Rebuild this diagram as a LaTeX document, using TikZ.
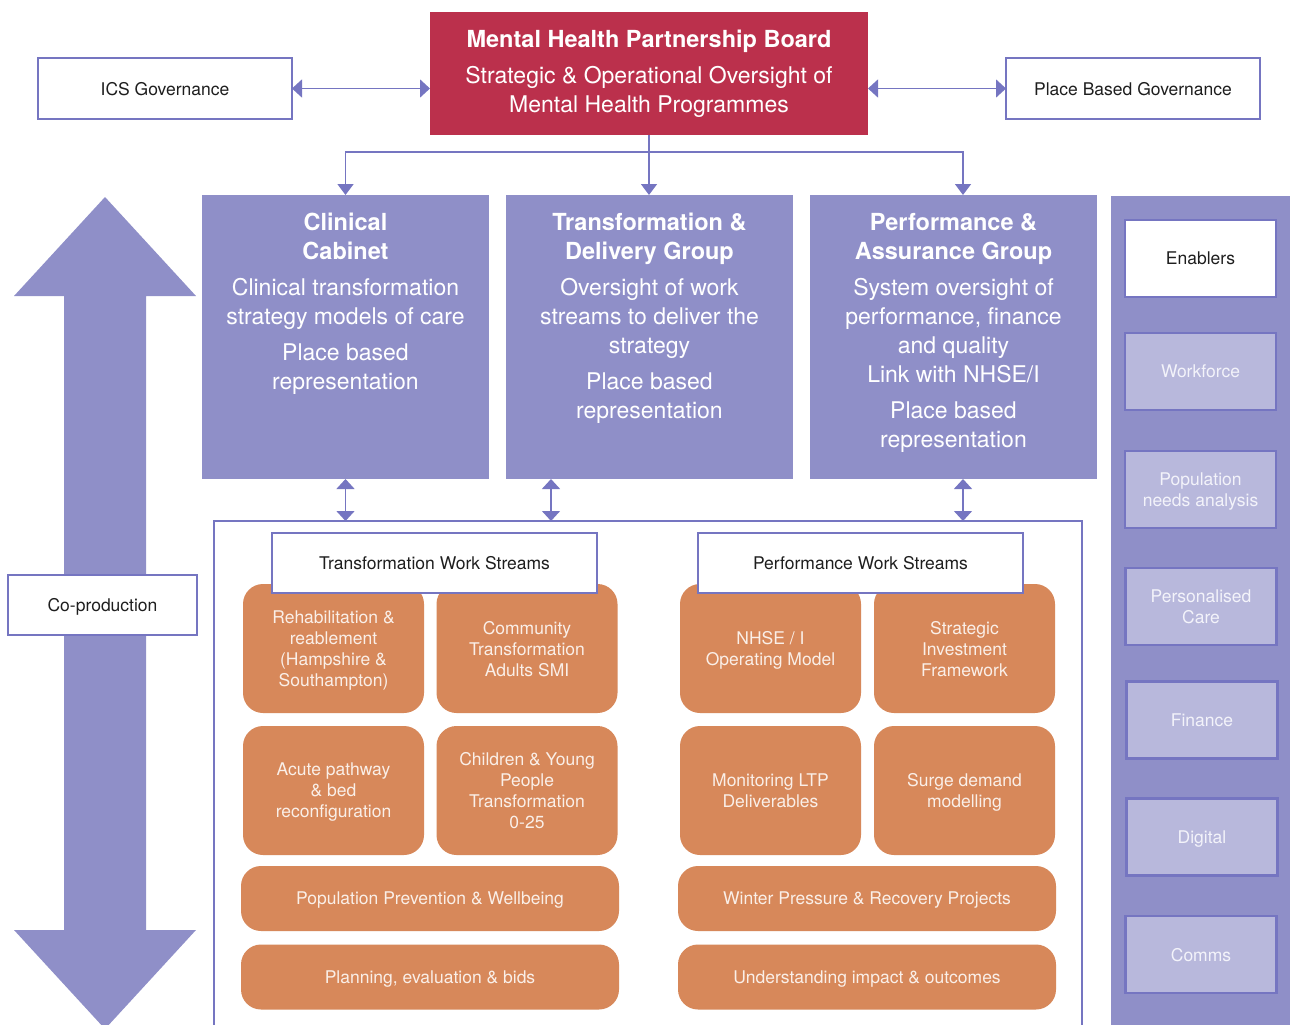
\documentclass[tikz,border=0pt]{standalone}
\usepackage{fontspec}
\setmainfont{TeX Gyre Heros}
\usetikzlibrary{arrows.meta}
\definecolor{crimson}{HTML}{BB304C}
\definecolor{lav}{HTML}{8F8FC8}
\definecolor{bord}{HTML}{7575C1}
\definecolor{lightlav}{HTML}{B8B8DC}
\definecolor{orng}{HTML}{D7885A}
\definecolor{orngtxt}{HTML}{FAEFE8}
\definecolor{entxt}{HTML}{F3F3FA}
\definecolor{dark}{HTML}{1E1E1E}
\begin{document}
\begin{tikzpicture}[x=1pt,y=-1pt,
 every node/.style={inner sep=0pt, outer sep=0pt, align=center},
 small/.style={font=\fontsize{17.5}{21}\selectfont},
 big/.style={font=\fontsize{23}{29}\selectfont},
 govbox/.style={draw=bord, line width=2.5pt, fill=white, text=dark, small, text depth=0pt},
 boardbox/.style={fill=crimson, text=white, big},
 groupbox/.style={fill=lav, anchor=north west, minimum width=287, minimum height=284},
 grouptxt/.style={text=white, big, anchor=north},
 orangebox/.style={fill=orng, rounded corners=20pt, text=orngtxt, small, text depth=-1.5pt},
 cellbox/.style={orangebox, minimum width=181, minimum height=129},
 widebox/.style={orangebox, minimum width=378, minimum height=65},
 headbox/.style={govbox, line width=2.5pt, minimum width=325, minimum height=60},
 enbox/.style={draw=bord, line width=2.5pt, fill=lightlav, text=entxt, small, text depth=0pt, minimum width=151, minimum height=77},
 link/.style={draw=bord, line width=1.5pt},
 dbl/.style={link, {Triangle[length=10pt,width=18pt]}-{Triangle[length=10pt,width=18pt]}},
 down/.style={link, -{Triangle[length=11pt,width=16pt]}},
]
\useasboundingbox (0,0) rectangle (1290,1025);

% co-production arrow
\fill[lav] (105,197) -- (196,296) -- (146,296) -- (146,930) -- (196,930) -- (105,1029)
  -- (14,930) -- (64,930) -- (64,296) -- (14,296) -- cycle;
\node[govbox, minimum width=189, minimum height=60] (coprod) at (102.5,605) {Co-production};

% top level
\node[boardbox, minimum width=438, minimum height=123] (board) at (649,73.5)
 {\textbf{\fontsize{23.5}{29}\selectfont Mental Health Partnership Board}\\[7pt]Strategic \& Operational Oversight of\\Mental Health Programmes};
\node[govbox, minimum width=254, minimum height=61] (ics) at (165,88.5) {ICS Governance};
\node[govbox, minimum width=254, minimum height=61] (place) at (1133,88.5) {Place Based Governance};

% groups
\node[groupbox] (clin) at (202,195) {};
\node[groupbox] (trans) at (506,195) {};
\node[groupbox] (perf) at (810,195) {};
\node[grouptxt] (clintxt) at (345.5,213)
 {\textbf{\fontsize{23.5}{29}\selectfont Clinical}\\\textbf{\fontsize{23.5}{29}\selectfont Cabinet}\\[7pt]Clinical transformation\\strategy models of care\\[7pt]Place based\\representation};
\node[grouptxt] (transtxt) at (649.5,213)
 {\textbf{\fontsize{23.5}{29}\selectfont Transformation \&}\\\textbf{\fontsize{23.5}{29}\selectfont Delivery Group}\\[7pt]Oversight of work\\streams to deliver the\\strategy\\[7pt]Place based\\representation};
\node[grouptxt] (perftxt) at (953.5,213)
 {\textbf{\fontsize{23.5}{29}\selectfont Performance \&}\\\textbf{\fontsize{23.5}{29}\selectfont Assurance Group}\\[7pt]System oversight of\\performance, finance\\and quality\\Link with NHSE/I\\[7pt]Place based\\representation};

% enablers column
\node[fill=lav, anchor=north west, minimum width=185, minimum height=835] (encol) at (1111,196) {};
\node[enbox, fill=white, text=dark] (en) at (1200.5,258.5) {Enablers};
\node[enbox] (wf) at (1200.5,371.5) {Workforce};
\node[enbox] (pna) at (1200.5,489.5) {Population\\needs analysis};
\node[enbox] (pc) at (1201,606.5) {Personalised\\Care};
\node[enbox] (fin) at (1202,720) {Finance};
\node[enbox] (dig) at (1202,837) {Digital};
\node[enbox] (com) at (1201,954.5) {Comms};

% work streams container
\node[draw=bord, line width=2pt, fill=white, anchor=north west, minimum width=868, minimum height=520] (cont) at (214,521) {};

\node[cellbox] (rehab) at (333.5,648.5) {Rehabilitation \&\\reablement\\(Hampshire \&\\Southampton)};
\node[cellbox] (comm) at (527,648.5) {Community\\Transformation\\Adults SMI};
\node[cellbox] (nhse) at (770.5,648.5) {NHSE / I\\Operating Model};
\node[cellbox] (sif) at (964.5,648.5) {Strategic\\Investment\\Framework};
\node[cellbox] (acute) at (333.5,790.5) {Acute pathway\\\& bed\\reconfiguration};
\node[cellbox] (cyp) at (527,790.5) {Children \& Young\\People\\Transformation\\0-25};
\node[cellbox] (ltp) at (770.5,790.5) {Monitoring LTP\\Deliverables};
\node[cellbox] (surge) at (964.5,790.5) {Surge demand\\modelling};
\node[widebox] (ppw) at (430,898.5) {Population Prevention \& Wellbeing};
\node[widebox] (wprp) at (867,898.5) {Winter Pressure \& Recovery Projects};
\node[widebox] (peb) at (430,977) {Planning, evaluation \& bids};
\node[widebox] (uio) at (867,977) {Understanding impact \& outcomes};

\node[headbox] (tws) at (434.5,563) {Transformation Work Streams};
\node[headbox] (pws) at (860.5,563) {Performance Work Streams};

% connectors
\draw[dbl] (ics.east) -- (ics.east -| board.west);
\draw[dbl] (place.west) -- (place.west -| board.east);
\coordinate (split) at (649,152);
\draw[link] (board.south) -- (split);
\draw[down] (split) -| (clin.north);
\draw[down] (split) -- (split |- trans.north);
\coordinate (pt) at ([xshift=9.5pt]perf.north);
\draw[down] (split) -| (pt);
\draw[dbl] (clin.south) -- (clin.south |- cont.north);
\coordinate (ta) at ([xshift=-98.5pt]trans.south);
\draw[dbl] (ta) -- (ta |- cont.north);
\coordinate (pa) at ([xshift=9.5pt]perf.south);
\draw[dbl] (pa) -- (pa |- cont.north);
\end{tikzpicture}
\end{document}
